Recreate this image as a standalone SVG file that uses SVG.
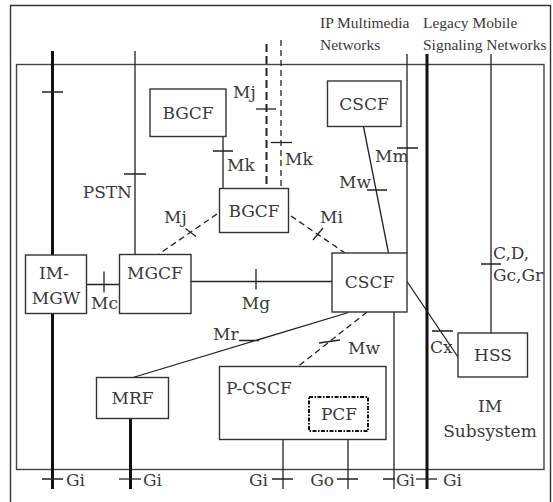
<svg xmlns="http://www.w3.org/2000/svg" width="553" height="502" viewBox="0 0 553 502">
<style>
text{font-family:"DejaVu Serif","Liberation Serif",serif;font-size:17px;fill:#3a3a3a}
.top{font-family:"Liberation Serif","DejaVu Serif",serif;font-size:15.5px}
.box{fill:#fff;stroke:#333;stroke-width:1.4}
.ln{stroke:#222;stroke-width:1.3;fill:none}
.thick{stroke:#111;stroke-width:3;fill:none}
.dash{stroke:#222;stroke-width:1.3;fill:none;stroke-dasharray:6 4}
.dashb{stroke:#222;stroke-width:2;fill:none;stroke-dasharray:8 4}
.pcf{fill:#fff;stroke:#111;stroke-width:2;stroke-dasharray:4 1.5 1.5 1.5}
.c{text-anchor:middle}
.e{text-anchor:end}
</style>
<rect width="553" height="502" fill="#fff"/>
<path d="M10.5,502 V5.5 H550.5 V502" fill="none" stroke="#333" stroke-width="1.4"/>
<rect x="16.5" y="64.5" width="527.5" height="405" fill="none" stroke="#444" stroke-width="1.4"/>
<g id="labels-top">
<text class="top" x="320" y="28">IP Multimedia</text>
<text class="top" x="320" y="50">Networks</text>
<text class="top" x="423" y="28">Legacy Mobile</text>
<text class="top" x="423" y="50">Signaling Networks</text>
<text class="c" x="490" y="412">IM</text>
<text class="c" x="490" y="437">Subsystem</text>
</g>
<g id="connectors">
<path class="thick" d="M52.5,51 V489"/>
<path class="ln" d="M42,92 H63 M42,479 H63"/>
<text x="66" y="486">Gi</text>
<path class="ln" d="M135,51 V254 M124,174 H146"/>
<text class="e" x="132" y="198">PSTN</text>
<path class="dashb" d="M266.5,44 V188"/>
<path class="ln" d="M256,109 H276"/>
<text x="233" y="98">Mj</text>
<path class="dash" d="M281,40 V188"/>
<path class="ln" d="M271,142.5 H292"/>
<text x="285" y="165">Mk</text>
<path class="ln" d="M223,136.5 V188 M213,151 H233"/>
<text x="227" y="171">Mk</text>
<path class="dash" d="M217,214 L159,254"/>
<path class="ln" d="M185.5,228.5 L196,236.5"/>
<text x="164" y="223">Mj</text>
<path class="dash" d="M291,216 L345,253"/>
<path class="ln" d="M313,240 L323,228"/>
<text x="320" y="223">Mi</text>
<path class="ln" d="M363.5,126.5 L388.5,253 M367,190 H387"/>
<text x="339" y="188">Mw</text>
<path class="ln" d="M407,54 V253 M397,148 H418"/>
<text x="375" y="162">Mm</text>
<path class="thick" d="M427,54 V489"/>
<path class="ln" d="M416,479 H437"/>
<text x="443" y="486">Gi</text>
<path class="ln" d="M491,54 V333 M481,264 H501"/>
<text x="493" y="259">C,D,</text>
<text x="493" y="281">Gc,Gr</text>
<path class="ln" d="M407,281.5 L458,357 M432,331 H453"/>
<text x="430" y="353">Cx</text>
<path class="ln" d="M86.5,284.5 H119.5 M104,271.5 V292.5"/>
<text x="91" y="309">Mc</text>
<path class="ln" d="M191,281.5 H332 M256,269 V289.5"/>
<text class="c" x="256" y="309">Mg</text>
<path class="ln" d="M133,377.5 L348.5,312.5 M239,340.5 H259"/>
<text x="213" y="340">Mr</text>
<path class="thick" d="M130.5,418 V489"/>
<path class="ln" d="M119,479 H141"/>
<text x="143" y="486">Gi</text>
<path class="dash" d="M367,312 L298,366.5"/>
<path class="ln" d="M319,343 L340,340"/>
<text x="348" y="354">Mw</text>
<path class="ln" d="M283,439.5 V489 M272,479 H293"/>
<text class="e" x="268" y="486">Gi</text>
<path class="ln" d="M348,431 V489 M337,479 H358"/>
<text class="e" x="334" y="486">Go</text>
<path class="ln" d="M394,312 V489 M383,479 H395"/>
<text x="396" y="486">Gi</text>
</g>
<g id="BGCF1"><rect class="box" x="150" y="89" width="76" height="47.5"/><text class="c" x="188" y="119">BGCF</text></g>
<g id="BGCF2"><rect class="box" x="219.5" y="188.5" width="69" height="44"/><text class="c" x="254" y="217">BGCF</text></g>
<g id="CSCF1"><rect class="box" x="327.5" y="81" width="73.5" height="45.5"/><text class="c" x="364" y="110">CSCF</text></g>
<g id="IM-MGW"><rect class="box" x="25.5" y="255" width="61" height="58.5"/><text class="c" x="54" y="279">IM-</text><text class="c" x="56" y="304">MGW</text></g>
<g id="MGCF"><rect class="box" x="119.5" y="254.5" width="71.5" height="59"/><text class="c" x="155" y="279">MGCF</text></g>
<g id="CSCF2"><rect class="box" x="332" y="253" width="75" height="59"/><text class="c" x="369.5" y="288">CSCF</text></g>
<g id="HSS"><rect class="box" x="458" y="333" width="69.5" height="44"/><text class="c" x="493" y="361">HSS</text></g>
<g id="MRF"><rect class="box" x="96.5" y="377.5" width="72" height="41"/><text class="c" x="132.5" y="404">MRF</text></g>
<g id="P-CSCF"><rect class="box" x="219.5" y="366.5" width="166.5" height="73"/><text x="226" y="394">P-CSCF</text></g>
<g id="PCF"><rect class="pcf" x="309" y="397" width="59" height="34"/><text class="c" x="339" y="420">PCF</text></g>
</svg>
